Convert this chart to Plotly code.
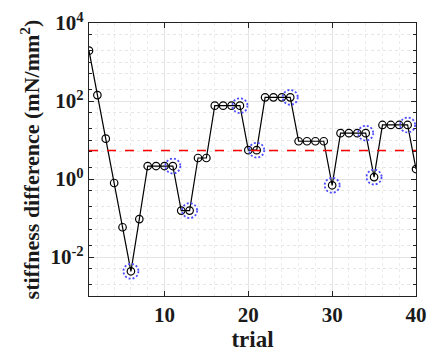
import numpy as np
import plotly.graph_objects as go

trials = list(range(1, 41))
stiffness_diff = [1950, 142, 10.8, 0.79, 0.058, 0.0043, 0.094,
                  2.15, 2.15, 2.15, 2.15, 0.155, 0.155, 3.46, 3.46,
                  76, 76, 76, 76, 5.5, 5.5, 124, 124, 124, 124,
                  9.3, 9.3, 9.3, 9.3, 0.69, 15, 15, 15, 15, 1.12,
                  24.3, 24.3, 24.3, 24.3, 1.8]
highlight_trials = [6, 11, 13, 19, 21, 25, 30, 34, 35, 39]
threshold = 5.4
ytick_vals = [1e-2, 1, 1e2, 1e4]
ytick_text = ["10<sup>-2</sup>", "10<sup>0</sup>", "10<sup>2</sup>", "10<sup>4</sup>"]
xtick_vals = [10, 20, 30, 40]

font = "Liberation Serif"
txt = "#1a1a1a"
ring_factor = 10 ** 0.19  # ring half-height as a factor on the log axis

fig = go.Figure()
fig.add_trace(go.Scatter(
    x=trials, y=stiffness_diff, mode="lines+markers",
    line=dict(color="black", width=1.2),
    marker=dict(symbol="circle-open", size=7.5, color="black", line=dict(width=1.2)),
    showlegend=False,
))

fig.add_hline(y=threshold, line=dict(color="red", width=1.5, dash="dash"))

for t in highlight_trials:
    v = stiffness_diff[t - 1]
    fig.add_shape(type="circle", xref="x", yref="y",
                  xsizemode="pixel", xanchor=t, x0=-7.5, x1=7.5,
                  y0=v / ring_factor, y1=v * ring_factor,
                  line=dict(color="#4b4bff", width=1.8, dash="2px,2px"))

axis_common = dict(
    showline=True, linecolor="#222", linewidth=1.3, mirror="ticks",
    ticks="inside", ticklen=5, tickcolor="#222",
    showgrid=True, gridcolor="#e4e4e4", gridwidth=1,
    zeroline=False, automargin=False,
    tickfont=dict(family=font, size=21, color=txt),
)

fig.update_xaxes(
    range=[1, 40], tickvals=xtick_vals,
    ticktext=["<b>%d</b>" % v for v in xtick_vals],
    title=dict(text="<b>trial</b>", font=dict(family=font, size=23, color=txt), standoff=2),
    minor=dict(dtick=2, showgrid=True, gridcolor="#ececec", griddash="dot", ticks=""),
    **axis_common,
)
fig.update_yaxes(
    type="log", range=[-3, 4], tickvals=ytick_vals,
    ticktext=["<b>" + t + "</b>" for t in ytick_text],
    title=dict(text="<b>stiffness difference (mN/mm<sup>2</sup>)</b>",
               font=dict(family=font, size=22, color=txt), standoff=4),
    minor=dict(showgrid=True, gridcolor="#e6e6e6", griddash="dot",
               ticks="inside", ticklen=3, tickcolor="#222"),
    **axis_common,
)

fig.update_layout(
    width=428, height=354,
    margin=dict(l=89, r=12, t=23, b=58),
    paper_bgcolor="white", plot_bgcolor="white",
)

fig.write_html("out.html",
               config={"displayModeBar": False},
               post_script="document.body.style.margin='0';document.body.style.padding='0';")
